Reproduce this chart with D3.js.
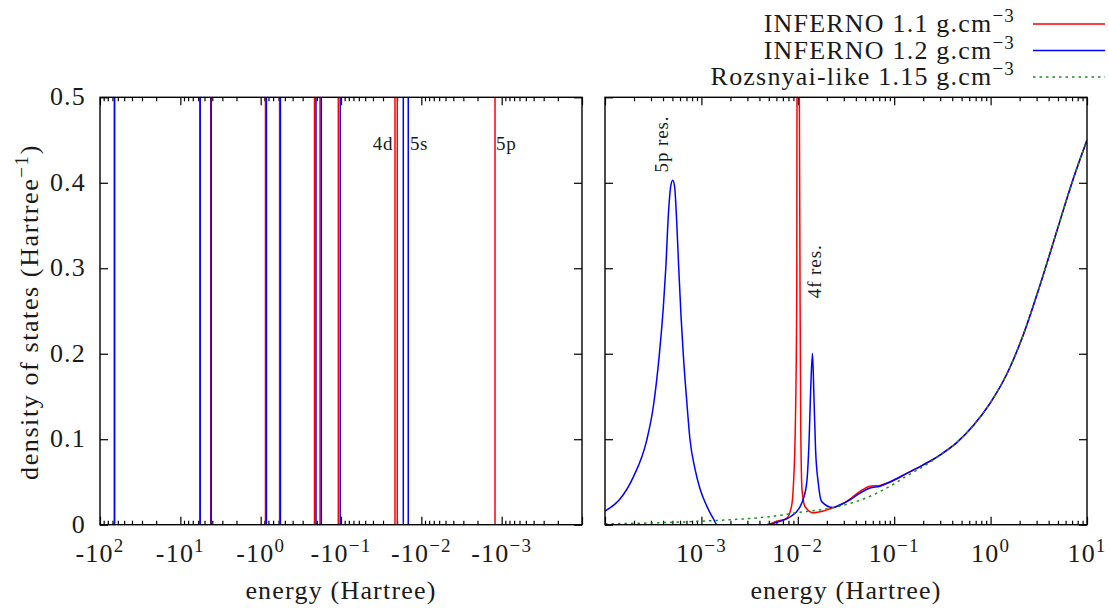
<!DOCTYPE html>
<html><head><meta charset="utf-8">
<script src="https://cdn.jsdelivr.net/npm/d3@7"></script>
<style>
body{margin:0;background:#fff}
text{font-family:"Liberation Serif","Times New Roman",serif;fill:#1a1a1a}
</style></head>
<body><svg id="c" width="1109" height="608"></svg>
<script>
// ---------- data ----------
const yTicks = [0, 0.1, 0.2, 0.3, 0.4, 0.5];
const yTickLabels = ["0", "0.1", "0.2", "0.3", "0.4", "0.5"];
const leftDecades = [2, 1, 0, -1, -2, -3];      // tick labels -10^k
const rightDecades = [-3, -2, -1, 0, 1];        // tick labels 10^k
const seriesNames = ["INFERNO 1.1 g.cm", "INFERNO 1.2 g.cm", "Rozsnyai-like 1.15 g.cm"];
const seriesColors = ["#ff0000", "#0000ff", "#1f8f1f"];

// bound levels (energies, Hartree)
const levels11 = [-66.0, -5.70, -4.18, -0.871, -0.581, -0.2138, -0.1825, -0.108, -0.02128, -0.01995, -0.00121];
const levels12 = [-66.0, -5.66, -4.13, -0.848, -0.568, -0.2048, -0.1758, -0.1023, -0.01677, -0.01455];

// continuum DOS
const e11 = [1e-4, 2e-3, 4.75e-3, 6.04e-3, 7.65e-3, 8.65e-3, 8.99e-3, 9.44e-3, 9.76e-3, 9.81e-3, 1.0e-2, 1.038e-2, 1.055e-2, 1.072e-2, 1.106e-2, 1.19e-2, 1.45e-2, 1.84e-2, 2.33e-2, 2.74e-2,
  3.48e-2, 4.42e-2, 5.61e-2, 7.12e-2, 9.04e-2, 0.135, 0.200, 0.298, 0.445, 0.662, 0.986, 1.47, 2.18, 3.25, 4.85, 7.22, 10];
const d11 = [0, 0, 0, 0.004, 0.0075, 0.023, 0.045, 0.119, 0.275, 0.5, 1.5, 0.5, 0.275, 0.119, 0.041, 0.021, 0.014, 0.016, 0.020, 0.023,
  0.030, 0.039, 0.045, 0.046, 0.050, 0.060, 0.070, 0.0815, 0.096, 0.116, 0.142, 0.176, 0.222, 0.280, 0.343, 0.405, 0.450];

const e12 = [1.0e-4, 1.43e-4, 1.97e-4, 2.71e-4, 3.17e-4, 3.66e-4, 4.03e-4, 4.27e-4, 4.54e-4, 4.81e-4, 5.04e-4, 5.28e-4, 5.54e-4, 5.82e-4, 6.14e-4, 6.49e-4, 7.03e-4, 7.61e-4, 8.59e-4, 9.67e-4, 1.135e-3, 1.33e-3, 1.46e-3,
  4.75e-3, 6.53e-3, 8.30e-3, 1.055e-2, 1.14e-2, 1.24e-2, 1.31e-2, 1.36e-2, 1.42e-2, 1.47e-2, 1.53e-2, 1.63e-2, 1.77e-2, 2.33e-2, 2.74e-2,
  3.48e-2, 4.42e-2, 5.61e-2, 7.12e-2, 9.04e-2, 0.135, 0.200, 0.298, 0.445, 0.662, 0.986, 1.47, 2.18, 3.25, 4.85, 7.22, 10];
const d12 = [0.016, 0.030, 0.056, 0.099, 0.138, 0.199, 0.255, 0.300, 0.362, 0.396, 0.403, 0.395, 0.355, 0.300, 0.245, 0.199, 0.146, 0.100, 0.065, 0.042, 0.022, 0.007, 0,
  0, 0.004, 0.009, 0.021, 0.030, 0.050, 0.099, 0.158, 0.2005, 0.150, 0.087, 0.049, 0.027, 0.020, 0.023,
  0.029, 0.037, 0.043, 0.045, 0.050, 0.060, 0.070, 0.0815, 0.096, 0.116, 0.142, 0.176, 0.222, 0.280, 0.343, 0.405, 0.450];

const eRoz = [1e-4, 2.93e-4, 9.67e-4, 2.13e-3, 4.75e-3, 1.055e-2, 2.33e-2, 5.19e-2, 9.04e-2, 0.135, 0.200, 0.298, 0.445, 0.662, 0.986, 1.47, 2.18, 3.25, 4.85, 7.22, 10];
const dRoz = [0.001, 0.002, 0.004, 0.006, 0.009, 0.0145, 0.020, 0.0316, 0.045, 0.057, 0.068, 0.081, 0.096, 0.116, 0.142, 0.176, 0.222, 0.280, 0.343, 0.405, 0.450];

// annotations (data coordinates)
const leftNotes = [{t:"4d", e:0.0225, v:0.438, a:"end"}, {t:"5s", e:0.01384, v:0.438, a:"start"}, {t:"5p", e:0.001175, v:0.438, a:"start"}];
const rightNotes = [{t:"5p res.", e:4.5e-4, v:0.412}, {t:"4f res.", e:0.0174, v:0.265}];

// ---------- layout ----------
const svg = d3.select("#c");
svg.append("rect").attr("width",1109).attr("height",608).attr("fill","#fff");
const yTop = 97.3, yBot = 524.7;
const L = {x0:100, x1:582}, R = {x0:605, x1:1087};
const y = d3.scaleLinear().domain([0,0.5]).range([yBot, yTop]);
const xl = d3.scaleLog().domain([100, 1e-4]).range([L.x0, L.x1]);
const xr = d3.scaleLog().domain([1e-4, 10]).range([R.x0, R.x1]);
const FS = 26, LS = 1.2;

const defs = svg.append("defs");
defs.append("clipPath").attr("id","clipL").append("rect").attr("x",L.x0).attr("y",yTop).attr("width",L.x1-L.x0).attr("height",yBot-yTop);
defs.append("clipPath").attr("id","clipR").append("rect").attr("x",R.x0).attr("y",yTop).attr("width",R.x1-R.x0).attr("height",yBot-yTop);

function minorTicks(lo, hi){
  const out=[];
  for(let k=lo;k<hi;k++) for(let m=2;m<=9;m++) out.push(m*Math.pow(10,k));
  return out;
}
function drawTicks(xs, x0, x1, majors, minors){
  const g = svg.append("g");
  const mk = (vals, len, orient, tr) => {
    const ax = orient(xs).tickValues(vals).tickSize(len).tickFormat("");
    const gg = g.append("g").attr("transform", tr).call(ax);
    gg.select(".domain").remove();
    gg.selectAll("line").attr("stroke","#000").attr("stroke-width",1.2);
  };
  mk(majors, -8, d3.axisBottom, `translate(0,${yBot})`);
  mk(minors, -4, d3.axisBottom, `translate(0,${yBot})`);
  mk(majors, -8, d3.axisTop, `translate(0,${yTop})`);
  mk(minors, -4, d3.axisTop, `translate(0,${yTop})`);
  const ayL = d3.axisLeft(y).tickValues(yTicks).tickSize(-8).tickFormat("");
  const ayR = d3.axisRight(y).tickValues(yTicks).tickSize(-8).tickFormat("");
  const a1 = g.append("g").attr("transform",`translate(${x0},0)`).call(ayL);
  const a2 = g.append("g").attr("transform",`translate(${x1},0)`).call(ayR);
  [a1,a2].forEach(a=>{a.select(".domain").remove(); a.selectAll("line").attr("stroke","#000").attr("stroke-width",1.2);});
}

drawTicks(xl, L.x0, L.x1, leftDecades.map(k=>Math.pow(10,k)).concat([1e-4]), minorTicks(-4,2));
drawTicks(xr, R.x0, R.x1, rightDecades.map(k=>Math.pow(10,k)).concat([1e-4]), minorTicks(-4,1));

// ---------- left panel: bound levels ----------
const gl = svg.append("g").attr("clip-path","url(#clipL)");
gl.append("line").attr("x1",L.x0).attr("x2",L.x1).attr("y1",y(0)).attr("y2",y(0)).attr("stroke","#7a1a9a").attr("stroke-width",1.5);
[[levels11, seriesColors[0]], [levels12, seriesColors[1]]].forEach(([lv,c])=>{
  gl.selectAll(null).data(lv).enter().append("line")
    .attr("x1",d=>xl(-d)).attr("x2",d=>xl(-d))
    .attr("y1",y(0)).attr("y2",y(0.5))
    .attr("stroke",c).attr("stroke-width",1.5);
});

// ---------- right panel: continuum ----------
const gr = svg.append("g").attr("clip-path","url(#clipR)");
const line = d3.line().x(d=>xr(d[0])).y(d=>y(d[1])).curve(d3.curveMonotoneX);
const z = (a,b)=>a.map((v,i)=>[v,b[i]]);
gr.append("path").datum(z(e11,d11)).attr("d",line).attr("fill","none").attr("stroke",seriesColors[0]).attr("stroke-width",1.5);
gr.append("path").datum(z(e12,d12)).attr("d",line).attr("fill","none").attr("stroke",seriesColors[1]).attr("stroke-width",1.5);
gr.append("path").datum(z(eRoz,dRoz)).attr("d",line).attr("fill","none").attr("stroke",seriesColors[2]).attr("stroke-width",1.5).attr("stroke-dasharray","2.5,4");

// ---------- frames ----------
[L,R].forEach(p=>svg.append("rect").attr("x",p.x0).attr("y",yTop).attr("width",p.x1-p.x0).attr("height",yBot-yTop)
  .attr("fill","none").attr("stroke","#000").attr("stroke-width",1.4));

// ---------- tick labels ----------
svg.selectAll(null).data(yTicks).enter().append("text")
  .attr("x",86).attr("y",d=>y(d)+8).attr("text-anchor","end").attr("font-size",FS).attr("letter-spacing",LS)
  .text((d,i)=>yTickLabels[i]);

function powLabel(sel, prefix, k){
  sel.append("tspan").text(prefix+"10");
  sel.append("tspan").attr("dy",-10).attr("font-size",19).text(k<0 ? "\u2212"+(-k) : String(k));
}
leftDecades.forEach(k=>{
  const t = svg.append("text").attr("x",xl(Math.pow(10,k))).attr("y",562).attr("text-anchor","middle").attr("font-size",FS).attr("letter-spacing",LS);
  powLabel(t,"-",k);
});
rightDecades.forEach(k=>{
  const t = svg.append("text").attr("x",xr(Math.pow(10,k))).attr("y",562).attr("text-anchor","middle").attr("font-size",FS).attr("letter-spacing",LS);
  powLabel(t,"",k);
});

// axis titles
svg.append("text").attr("x",(L.x0+L.x1)/2).attr("y",599).attr("text-anchor","middle").attr("font-size",FS).attr("letter-spacing",LS).text("energy (Hartree)");
svg.append("text").attr("x",(R.x0+R.x1)/2).attr("y",599).attr("text-anchor","middle").attr("font-size",FS).attr("letter-spacing",LS).text("energy (Hartree)");
const yl = svg.append("text").attr("transform","translate(38,312) rotate(-90)").attr("text-anchor","middle").attr("font-size",FS).attr("letter-spacing",1.6);
yl.append("tspan").text("density of states (Hartree");
yl.append("tspan").attr("dy",-10).attr("font-size",19).text("\u22121");
yl.append("tspan").attr("dy",10).text(")");

// annotations
leftNotes.forEach(n=>svg.append("text").attr("x",xl(n.e)).attr("y",y(n.v)).attr("text-anchor",n.a).attr("font-size",19).attr("letter-spacing",0.6).text(n.t));
rightNotes.forEach(n=>svg.append("text").attr("transform",`translate(${xr(n.e)},${y(n.v)}) rotate(-90)`).attr("font-size",19).attr("letter-spacing",0.9).text(n.t));

// ---------- legend ----------
const legY = [24, 50.5, 77];
seriesNames.forEach((nm,i)=>{
  const t = svg.append("text").attr("x",1015).attr("y",legY[i]+8).attr("text-anchor","end").attr("font-size",FS).attr("letter-spacing",LS);
  t.append("tspan").text(nm);
  t.append("tspan").attr("dy",-10).attr("font-size",19).text("\u22123");
  const ln = svg.append("line").attr("x1",1033).attr("x2",1105).attr("y1",legY[i]).attr("y2",legY[i])
    .attr("stroke",seriesColors[i]).attr("stroke-width",1.5);
  if(i===2) ln.attr("stroke-dasharray","2.5,4");
});
</script></body></html>
